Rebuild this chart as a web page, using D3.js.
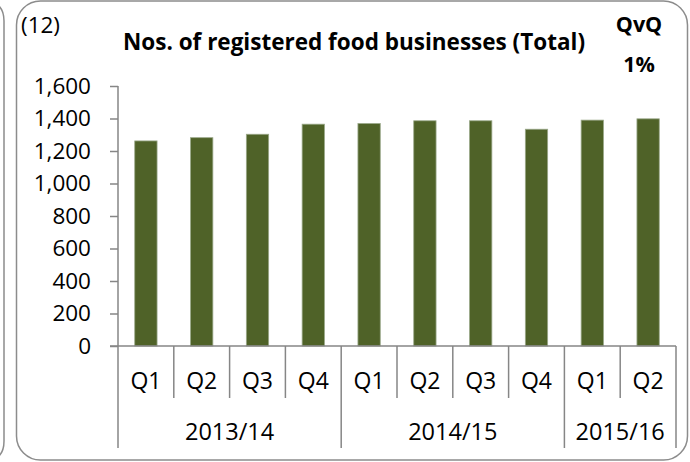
<!DOCTYPE html>
<html>
<head>
<meta charset="utf-8">
<script src="https://cdn.jsdelivr.net/npm/d3@7"></script>
<style>
  body { margin: 0; background: #fff; }
  svg { display: block; }
</style>
</head>
<body>
<div id="chart"></div>
<script>
// chart data
const quarters = ["Q1", "Q2", "Q3", "Q4", "Q1", "Q2", "Q3", "Q4", "Q1", "Q2"];
const fiscalYears = ["2013/14", "2013/14", "2013/14", "2013/14",
                     "2014/15", "2014/15", "2014/15", "2014/15",
                     "2015/16", "2015/16"];
const businesses = [1262, 1282, 1303, 1365, 1369, 1386, 1386, 1334, 1390, 1398];
const yTicks = [0, 200, 400, 600, 800, 1000, 1200, 1400, 1600];

const WIDTH = 690, HEIGHT = 462;
const PLOT = {left: 118, right: 676, top: 86, bottom: 346};
const FONT = "'Open Sans', Lato, sans-serif";
const AXIS_GREY = "#868686";

const svg = d3.select("#chart").append("svg")
    .attr("width", WIDTH)
    .attr("height", HEIGHT);

// frames: edge of the previous panel and this panel's rounded box
svg.append("path")
    .attr("d", "M-20,1 L-16,1 Q4,1 4,21 L4,441 Q4,461 -16,461 L-20,461")
    .attr("fill", "none").attr("stroke", "#8c8c8c").attr("stroke-width", 1.5);
svg.append("rect")
    .attr("x", 16.5).attr("y", 1).attr("width", 671).attr("height", 459)
    .attr("rx", 24).attr("ry", 24)
    .attr("fill", "none").attr("stroke", "#8c8c8c").attr("stroke-width", 1.5);

const keys = quarters.map((q, i) => fiscalYears[i] + " " + q);

const x = d3.scaleBand()
    .domain(keys)
    .range([PLOT.left, PLOT.right])
    .paddingInner(0.6)
    .paddingOuter(0.3);

const y = d3.scaleLinear()
    .domain([0, 1600])
    .range([PLOT.bottom, PLOT.top]);

// y axis
const yAxis = svg.append("g")
    .attr("transform", "translate(" + PLOT.left + ",0)")
    .call(d3.axisLeft(y).tickValues(yTicks).tickSize(8).tickPadding(19)
          .tickFormat(d3.format(",")));
yAxis.select(".domain").attr("stroke", AXIS_GREY).attr("stroke-width", 1.5)
    .attr("d", "M0," + PLOT.top + "V" + PLOT.bottom);
yAxis.selectAll(".tick line").attr("stroke", AXIS_GREY).attr("stroke-width", 1.5);
yAxis.selectAll("text").attr("font-family", FONT).attr("font-size", "22.5px")
    .attr("fill", "#000");

// bars
svg.selectAll(".bar")
  .data(businesses)
  .enter()
  .append("rect")
    .attr("class", "bar")
    .attr("x", (d, i) => x(keys[i]))
    .attr("y", d => y(d))
    .attr("width", x.bandwidth())
    .attr("height", d => y(0) - y(d))
    .attr("fill", "#4f6228")
    .attr("stroke", "#9aa889")
    .attr("stroke-width", 0.8);

// x axis line
svg.append("line")
    .attr("x1", PLOT.left - 8).attr("x2", PLOT.right)
    .attr("y1", y(0)).attr("y2", y(0))
    .attr("stroke", AXIS_GREY).attr("stroke-width", 1.5);

// category separators: short between quarters, long at year boundaries
const step = x.step();
const bounds = d3.range(keys.length + 1).map(i => {
  const isYearEdge = i === 0 || i === keys.length || fiscalYears[i] !== fiscalYears[i - 1];
  return {pos: PLOT.left + i * step, long: isYearEdge};
});
svg.selectAll(".sep")
  .data(bounds)
  .enter()
  .append("line")
    .attr("x1", d => d.pos).attr("x2", d => d.pos)
    .attr("y1", y(0))
    .attr("y2", d => d.long ? 448 : 398)
    .attr("stroke", AXIS_GREY).attr("stroke-width", 1.5);

// quarter labels
svg.selectAll(".qlab")
  .data(quarters)
  .enter()
  .append("text")
    .attr("x", (d, i) => x(keys[i]) + x.bandwidth() / 2)
    .attr("y", 389)
    .attr("text-anchor", "middle")
    .attr("font-family", FONT).attr("font-size", "23px")
    .text(d => d);

// year labels, centred under their quarters
const years = Array.from(new Set(fiscalYears));
svg.selectAll(".ylab")
  .data(years)
  .enter()
  .append("text")
    .attr("x", d => {
      const idx = fiscalYears.map((f, i) => f === d ? i : -1).filter(i => i >= 0);
      return PLOT.left + (idx[0] + idx[idx.length - 1] + 1) / 2 * step;
    })
    .attr("y", 440)
    .attr("text-anchor", "middle")
    .attr("font-family", FONT).attr("font-size", "23.5px")
    .text(d => d);

// title and notes
svg.append("text")
    .attr("x", 354).attr("y", 50)
    .attr("text-anchor", "middle")
    .attr("font-family", FONT).attr("font-weight", "bold").attr("font-size", "22.5px")
    .text("Nos. of registered food businesses (Total)");

svg.append("text")
    .attr("x", 21).attr("y", 33)
    .attr("font-family", FONT).attr("font-size", "22.5px")
    .text("(12)");

svg.append("text")
    .attr("x", 639).attr("y", 32)
    .attr("text-anchor", "middle")
    .attr("font-family", FONT).attr("font-weight", "bold").attr("font-size", "21.5px")
    .text("QvQ");

svg.append("text")
    .attr("x", 639).attr("y", 72)
    .attr("text-anchor", "middle")
    .attr("font-family", FONT).attr("font-weight", "bold").attr("font-size", "21.5px")
    .text("1%");
</script>
</body>
</html>
